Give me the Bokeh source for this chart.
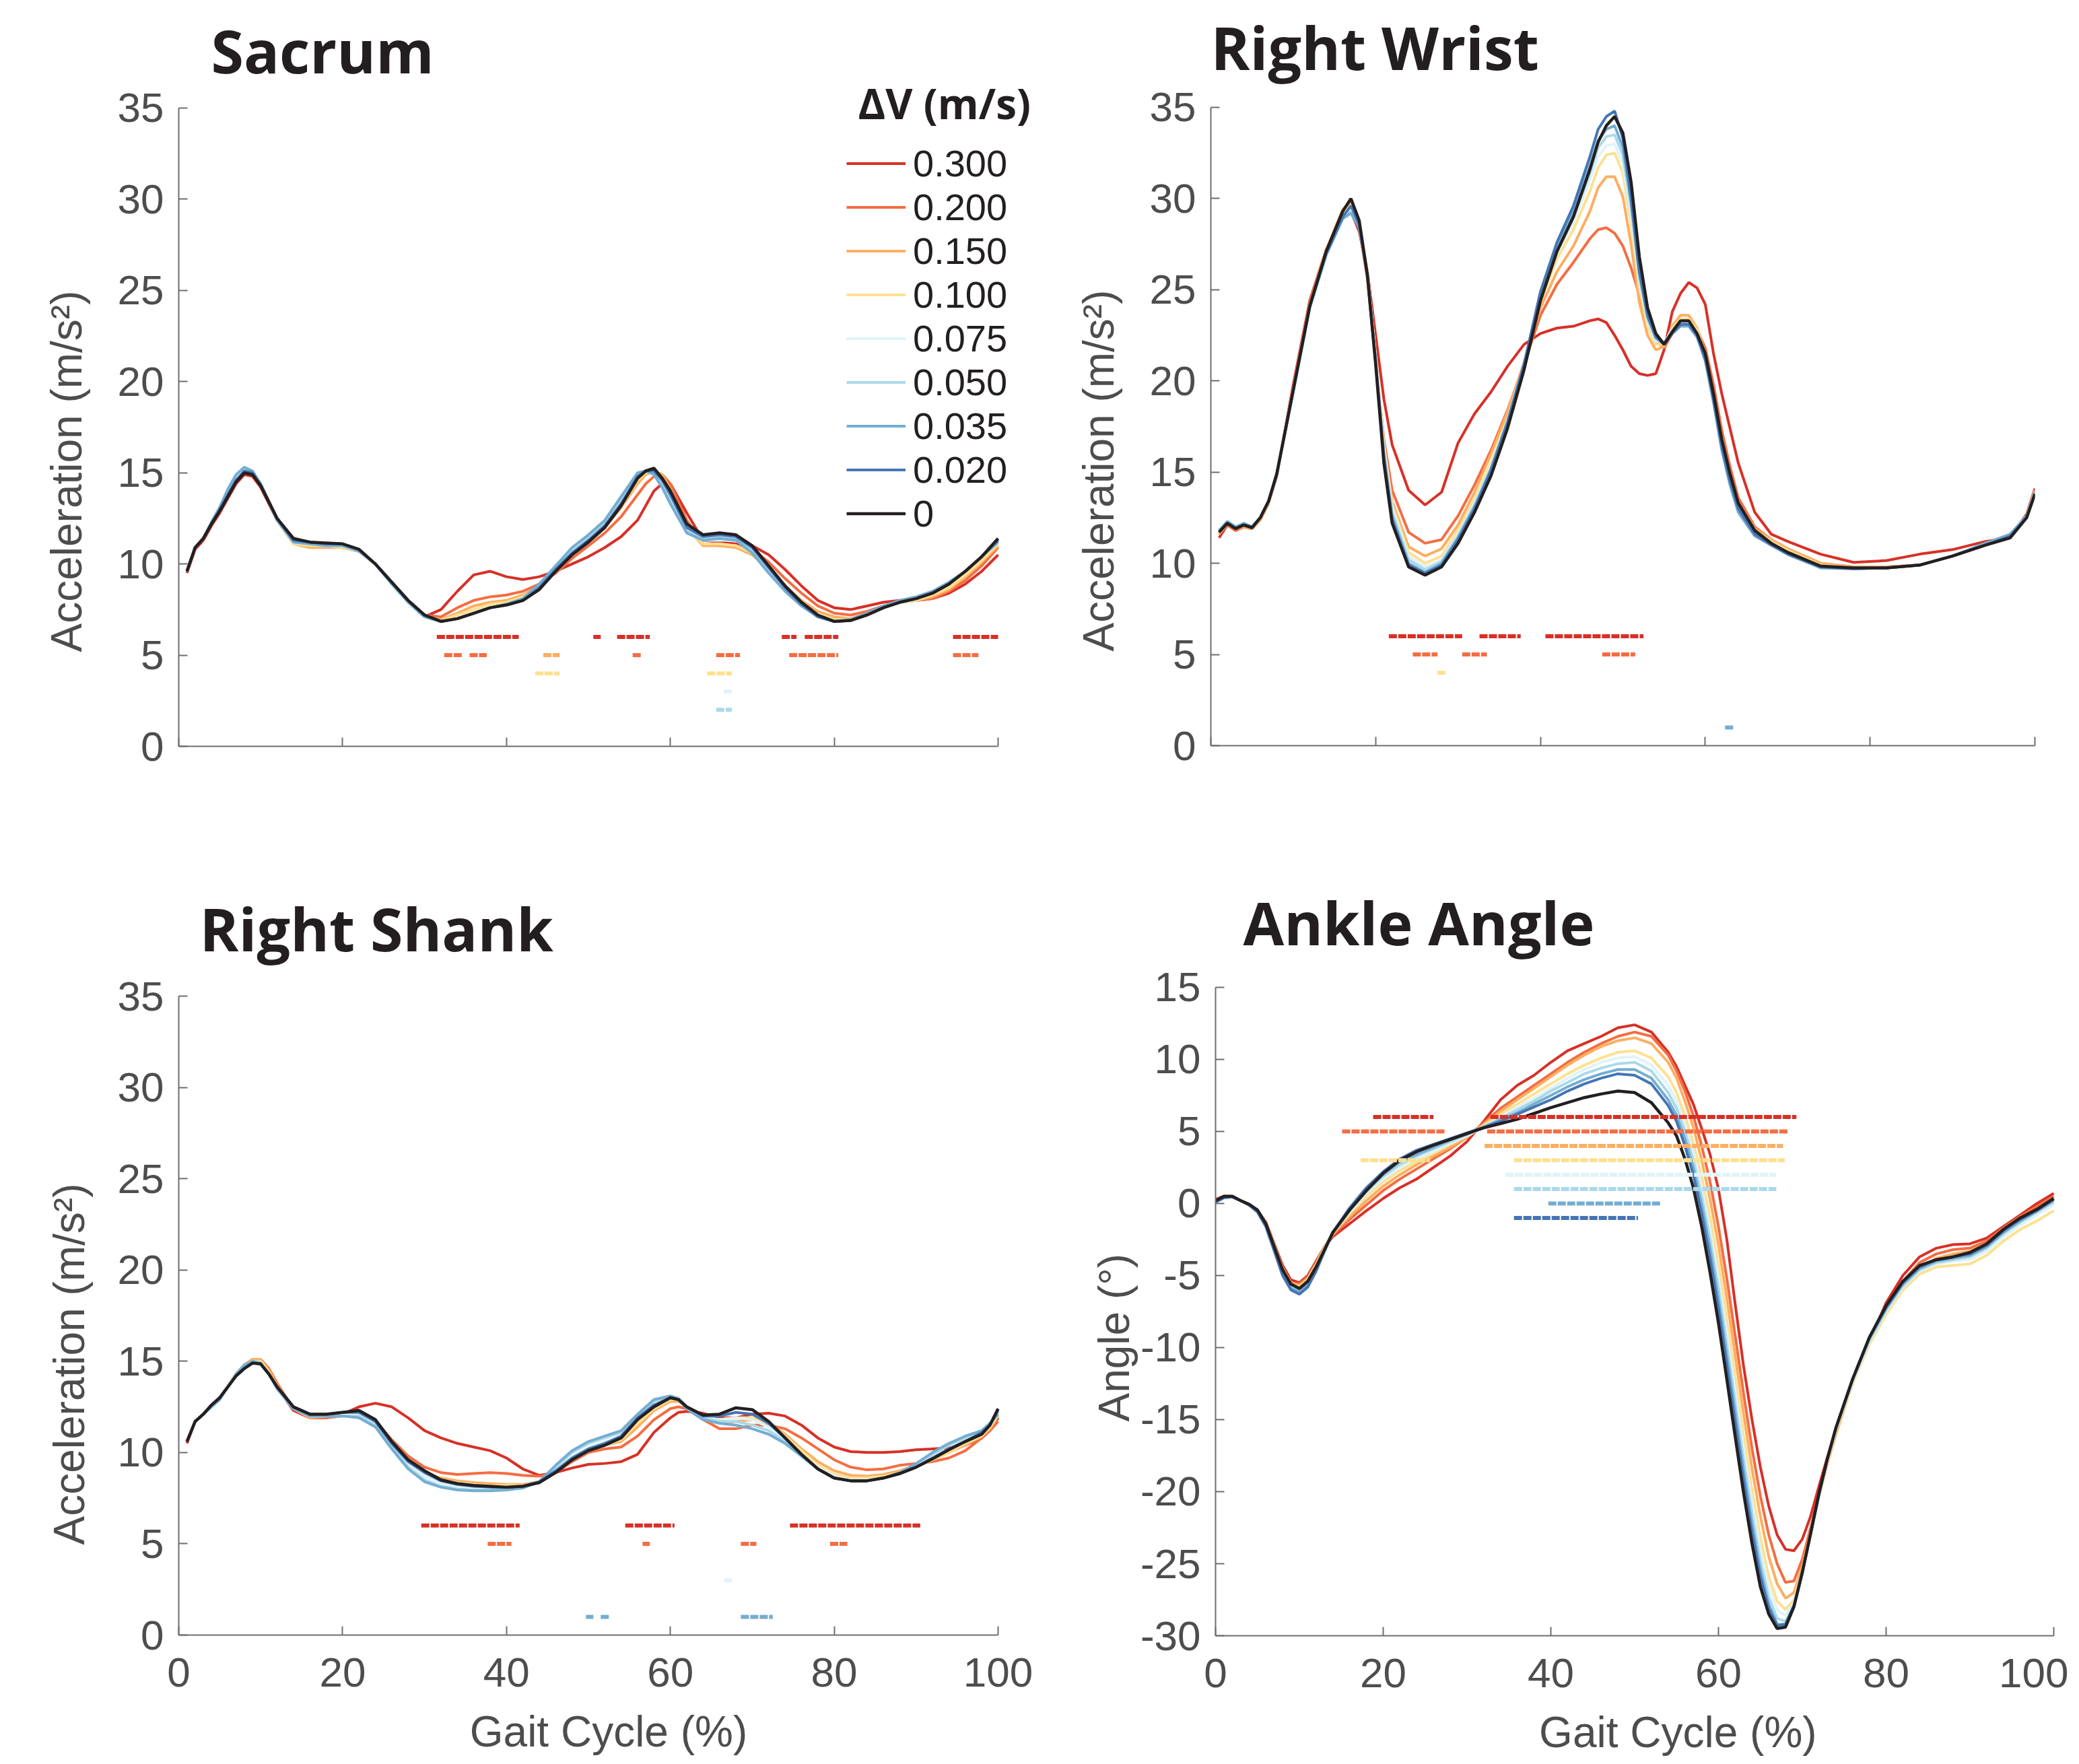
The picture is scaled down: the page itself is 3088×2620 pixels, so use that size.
import math
from bokeh.plotting import figure
from bokeh.layouts import column, row
from bokeh.models import (Range1d, FixedTicker, Label, Legend, LegendItem,
                          ColumnDataSource, Title)
from bokeh.embed import file_html
from bokeh.resources import INLINE

# ---------------- data ----------------
SERIES = ["0.300", "0.200", "0.150", "0.100", "0.075", "0.050", "0.035", "0.020", "0"]
COLORS = ["#d73027", "#f46d43", "#fdae61", "#fee090", "#e0f3f8",
          "#abd9e9", "#74add1", "#4575b4", "#231f20"]
X_TICKS = [0, 20, 40, 60, 80, 100]
ACC_TICKS = [0, 5, 10, 15, 20, 25, 30, 35]
ANK_TICKS = [-30, -25, -20, -15, -10, -5, 0, 5, 10, 15]
ANK_TICK_TEXT = ["-30", "-25", "-20", "-15", "-10", "-5", "0", "5", "10", "15"]

# Sacrum
S_X = [1, 2, 3, 4, 5, 6, 7, 8, 9, 10, 12, 14, 16, 18, 20, 22, 24, 26, 28, 30, 32, 34, 36, 38, 40,
       42, 44, 46, 48, 50, 52, 54, 56, 57, 58, 59, 60, 62, 64, 66, 68, 70, 72, 74, 76, 78, 80, 82,
       84, 86, 88, 90, 92, 94, 96, 98, 100]
S300 = [9.5, 10.8, 11.3, 12.1, 12.8, 13.6, 14.4, 14.9, 14.8, 14.2,
        12.4, 11.2, 11.0, 11.0, 10.9, 10.7, 10.0, 9.0, 8.0, 7.1, 7.5, 8.5, 9.4, 9.6, 9.3, 9.15, 9.3, 9.6, 10.0, 10.4, 10.9, 11.5, 12.4,
        13.2, 14.0, 14.4, 14.4,
        12.8, 11.3, 11.2, 11.1, 11.0, 10.5, 9.7, 8.8, 8.0, 7.6, 7.5, 7.7, 7.9, 8.0, 8.0, 8.1, 8.4, 8.9, 9.6, 10.5]
S200 = [9.6, 10.9, 11.4, 12.2, 12.9, 13.8, 14.6, 15.1, 15.0, 14.4,
        12.5, 11.2, 11.0, 11.0, 10.9, 10.7, 10.0, 9.0, 8.0, 7.2, 7.1, 7.6, 8.0, 8.2, 8.3, 8.5, 8.9, 9.5, 10.3, 11.0, 11.7, 12.6, 13.8,
        14.4, 14.8, 14.9, 14.4,
        12.4, 11.1, 11.0, 11.0, 10.8, 10.1, 9.2, 8.4, 7.7, 7.3, 7.2, 7.4, 7.7, 7.9, 8.0, 8.1, 8.5, 9.1, 9.9, 10.9]
S150 = [9.6, 10.9, 11.4, 12.3, 13.0, 13.9, 14.7, 15.1, 15.0, 14.4,
        12.4, 11.1, 10.9, 10.9, 10.9, 10.7, 10.0, 9.0, 8.0, 7.1, 6.95, 7.3, 7.7, 7.9, 8.0, 8.3, 8.8, 9.6, 10.5, 11.2, 12.0, 13.1, 14.4,
        14.9, 15.1, 14.9, 14.1,
        12.0, 11.0, 11.0, 10.9, 10.5, 9.7, 8.8, 8.0, 7.4, 7.1, 7.0, 7.3, 7.6, 7.9, 8.0, 8.2, 8.6, 9.3, 10.1, 11.0]
S100 = [9.6, 10.9, 11.4, 12.3, 13.0, 13.9, 14.7, 15.1, 15.0, 14.4,
        12.4, 11.1, 11.0, 11.0, 10.9, 10.7, 10.0, 9.0, 8.0, 7.1, 6.9, 7.2, 7.5, 7.8, 7.9, 8.2, 8.8, 9.7, 10.6, 11.3, 12.1, 13.2, 14.6,
        15.0, 15.1, 14.7, 13.9,
        11.9, 11.1, 11.1, 11.0, 10.6, 9.6, 8.6, 7.8, 7.2, 6.95, 6.95, 7.2, 7.6, 7.9, 8.0, 8.3, 8.7, 9.4, 10.2, 11.1]
S075 = [9.6, 10.9, 11.4, 12.3, 13.0, 14.0, 14.8, 15.2, 15.0, 14.4,
        12.4, 11.2, 11.1, 11.0, 11.0, 10.7, 10.0, 8.9, 7.9, 7.1, 6.85, 7.0, 7.3, 7.6, 7.8, 8.1, 8.8, 9.8, 10.7, 11.4, 12.2, 13.4, 14.8,
        15.1, 15.1, 14.5, 13.6,
        11.8, 11.3, 11.3, 11.3, 10.7, 9.6, 8.6, 7.8, 7.1, 6.85, 6.9, 7.2, 7.6, 7.9, 8.1, 8.4, 8.9, 9.6, 10.4, 11.3]
S050 = [9.6, 10.9, 11.4, 12.3, 13.1, 14.1, 14.9, 15.3, 15.1, 14.4,
        12.4, 11.2, 11.1, 11.0, 11.0, 10.7, 10.0, 8.9, 7.9, 7.1, 6.85, 7.0, 7.3, 7.6, 7.8, 8.1, 8.8, 9.8, 10.8, 11.5, 12.3, 13.5, 14.9,
        15.1, 15.0, 14.4, 13.5,
        11.8, 11.4, 11.5, 11.4, 10.8, 9.6, 8.6, 7.8, 7.1, 6.85, 6.9, 7.2, 7.6, 7.9, 8.1, 8.4, 8.9, 9.6, 10.4, 11.3]
S035 = [9.6, 10.9, 11.4, 12.3, 13.1, 14.1, 14.9, 15.3, 15.1, 14.4,
        12.4, 11.2, 11.1, 11.0, 11.0, 10.7, 10.0, 8.9, 7.9, 7.1, 6.85, 7.0, 7.3, 7.6, 7.8, 8.1, 8.9, 9.9, 10.9, 11.6, 12.4, 13.7, 15.0,
        15.1, 14.9, 14.2, 13.3,
        11.7, 11.3, 11.4, 11.3, 10.6, 9.5, 8.5, 7.7, 7.1, 6.85, 6.95, 7.3, 7.7, 8.0, 8.2, 8.5, 9.0, 9.6, 10.4, 11.2]
S020 = [9.6, 10.9, 11.4, 12.2, 13.0, 13.8, 14.6, 15.1, 15.0, 14.3,
        12.5, 11.3, 11.2, 11.1, 11.1, 10.8, 10.0, 9.0, 8.0, 7.2, 6.85, 7.0, 7.3, 7.6, 7.75, 8.0, 8.7, 9.7, 10.6, 11.3, 12.1, 13.3, 14.8,
        15.1, 15.1, 14.6, 13.8,
        12.0, 11.5, 11.6, 11.5, 10.9, 9.8, 8.7, 7.8, 7.1, 6.85, 6.9, 7.2, 7.6, 7.9, 8.1, 8.4, 8.9, 9.6, 10.4, 11.3]
S000 = [9.6, 10.9, 11.4, 12.2, 12.9, 13.7, 14.5, 15.0, 14.9, 14.3,
        12.5, 11.4, 11.2, 11.15, 11.1, 10.8, 10.0, 9.0, 8.0, 7.2, 6.85, 7.0, 7.3, 7.6, 7.75, 8.0, 8.6, 9.6, 10.5, 11.2, 12.0, 13.2, 14.7,
        15.1, 15.25, 14.7, 14.0,
        12.2, 11.6, 11.7, 11.6, 11.0, 9.9, 8.8, 7.9, 7.2, 6.85, 6.9, 7.2, 7.6, 7.9, 8.1, 8.4, 8.9, 9.6, 10.4, 11.4]

# Right wrist
W_X = [1, 2, 3, 4, 5, 6, 7, 8, 10, 12, 14, 16, 17, 18, 19, 20, 21, 22, 24, 26, 28, 30, 32, 34, 36,
       38, 40, 42, 44, 46, 47, 48, 49, 50, 51, 52, 53, 54, 55, 56, 57, 58, 59, 60, 61, 62, 63, 64,
       66, 68, 70, 74, 78, 82, 86, 90, 94, 97, 99, 100]
W300 = [11.4, 12.1, 11.8, 12.0, 11.9, 12.4, 13.3, 14.8,
        19.8, 24.4, 27.2, 28.9,
        29.3, 28.2, 26.0, 22.5, 19.0, 16.5,
        14.0, 13.2, 13.9, 16.6, 18.2, 19.4, 20.8, 22.0, 22.6, 22.9, 23.0, 23.3,
        23.4, 23.2, 22.5, 21.7, 20.8, 20.4, 20.3, 20.4, 21.7, 23.8, 24.8, 25.4, 25.1, 24.2, 21.5, 19.3, 17.4, 15.5,
        12.8, 11.6, 11.2,
        10.5, 10.05, 10.15, 10.5, 10.75, 11.2,
        11.4, 12.7, 14.1]
W200 = [11.6, 12.1, 11.8, 12.0, 11.9, 12.4, 13.3, 14.9,
        19.6, 24.3, 27.2, 28.9,
        29.4, 28.4, 25.6, 21.0, 16.8, 14.0,
        11.7, 11.1, 11.3, 12.6, 14.3, 16.2, 18.4, 20.9, 23.6, 25.3, 26.5, 27.8,
        28.3, 28.4, 28.1, 27.4, 26.2, 24.7, 23.2, 22.2, 21.8, 22.6, 23.3, 23.4, 22.8, 21.8, 19.8, 17.3, 15.3, 13.6,
        12.0, 11.3, 10.8,
        10.0, 9.8, 9.8, 9.9, 10.4, 11.0,
        11.4, 12.6, 14.0]
W150 = [11.6, 12.2, 11.9, 12.0, 11.9, 12.4, 13.3, 14.9,
        19.6, 24.2, 27.2, 29.4,
        29.8, 28.6, 25.8, 21.2, 16.5, 13.4,
        10.9, 10.4, 10.8, 12.1, 13.9, 16.0, 18.3, 21.0, 24.0, 26.0, 27.4, 29.3,
        30.6, 31.2, 31.2, 30.1, 27.5, 24.3, 22.5, 21.7, 21.9, 23.0, 23.6, 23.6, 22.9, 21.5, 19.3, 16.9, 14.9, 13.3,
        11.9, 11.3, 10.8,
        10.0, 9.8, 9.8, 9.9, 10.4, 11.0,
        11.5, 12.6, 14.0]
W100 = [11.7, 12.2, 12.0, 12.1, 12.0, 12.5, 13.4, 14.9,
        19.5, 24.1, 27.1, 29.2,
        29.6, 28.6, 26.0, 21.4, 16.5, 13.2,
        10.6, 10.0, 10.4, 11.8, 13.5, 15.5, 17.9, 20.9, 24.3, 26.7, 28.3, 30.4,
        31.7, 32.4, 32.5, 31.4, 28.6, 25.1, 23.0, 22.0, 22.0, 22.9, 23.4, 23.4, 22.8, 21.4, 19.1, 16.6, 14.6, 13.1,
        11.8, 11.2, 10.7,
        9.9, 9.75, 9.75, 9.9, 10.4, 11.0,
        11.5, 12.6, 13.9]
W075 = [11.7, 12.2, 12.0, 12.1, 12.0, 12.5, 13.4, 14.9,
        19.5, 24.1, 27.0, 29.0,
        29.4, 28.5, 25.9, 21.3, 16.3, 13.0,
        10.4, 9.8, 10.2, 11.6, 13.3, 15.3, 17.8, 20.9, 24.5, 27.0, 28.7, 31.0,
        32.3, 32.9, 33.0, 31.9, 29.1, 25.5, 23.3, 22.2, 22.1, 22.8, 23.2, 23.2, 22.6, 21.3, 19.0, 16.5, 14.5, 13.0,
        11.7, 11.1, 10.6,
        9.8, 9.7, 9.75, 9.9, 10.4, 11.0,
        11.5, 12.5, 13.9]
W050 = [11.7, 12.3, 12.0, 12.1, 12.0, 12.5, 13.4, 14.9,
        19.4, 24.0, 26.9, 28.9,
        29.3, 28.5, 25.9, 21.2, 16.1, 12.8,
        10.2, 9.65, 10.1, 11.5, 13.2, 15.2, 17.7, 20.9, 24.6, 27.2, 29.0, 31.4,
        32.8, 33.4, 33.5, 32.4, 29.5, 25.7, 23.4, 22.3, 22.1, 22.7, 23.1, 23.1, 22.5, 21.2, 18.9, 16.3, 14.4, 12.9,
        11.6, 11.0, 10.5,
        9.75, 9.7, 9.75, 9.9, 10.4, 11.1,
        11.5, 12.6, 13.9]
W035 = [11.8, 12.3, 12.0, 12.2, 12.0, 12.5, 13.4, 14.9,
        19.4, 24.0, 26.9, 28.9,
        29.2, 28.4, 25.8, 21.1, 16.0, 12.6,
        10.0, 9.5, 10.0, 11.4, 13.1, 15.2, 17.8, 20.9, 24.7, 27.4, 29.3, 31.8,
        33.2, 33.8, 34.0, 32.8, 29.8, 25.9, 23.5, 22.4, 22.1, 22.6, 23.0, 23.0, 22.4, 21.1, 18.8, 16.2, 14.3, 12.8,
        11.5, 11.0, 10.5,
        9.75, 9.7, 9.75, 9.9, 10.4, 11.1,
        11.6, 12.6, 13.9]
W020 = [11.7, 12.2, 11.9, 12.1, 12.0, 12.5, 13.4, 14.9,
        19.5, 24.1, 27.0, 29.0,
        29.6, 28.6, 25.8, 21.0, 15.8, 12.4,
        9.9, 9.45, 9.9, 11.3, 13.0, 15.1, 17.7, 20.9, 24.9, 27.6, 29.6, 32.3,
        33.8, 34.5, 34.8, 33.3, 30.0, 26.0, 23.6, 22.4, 22.0, 22.6, 23.1, 23.1, 22.5, 21.2, 19.0, 16.4, 14.5, 13.0,
        11.6, 11.0, 10.5,
        9.8, 9.7, 9.75, 9.9, 10.4, 11.0,
        11.5, 12.5, 13.8]
W000 = [11.7, 12.2, 11.9, 12.1, 11.95, 12.5, 13.4, 14.9,
        19.5, 24.1, 27.1, 29.3,
        30.0, 28.8, 25.8, 20.9, 15.5, 12.2,
        9.8, 9.35, 9.8, 11.1, 12.8, 14.8, 17.4, 20.6, 24.4, 27.1, 29.0, 31.6,
        33.1, 34.0, 34.5, 33.6, 30.9, 26.8, 24.0, 22.6, 22.0, 22.7, 23.3, 23.3, 22.6, 21.5, 19.3, 16.8, 14.9, 13.3,
        11.8, 11.1, 10.6,
        9.85, 9.75, 9.75, 9.9, 10.4, 11.0,
        11.4, 12.5, 13.8]

# Right shank
K_X = [1, 2, 3, 4, 5, 6, 7, 8, 9, 10, 11, 12, 14, 16, 18, 20, 22, 24, 26, 28, 30, 32, 34, 36, 38,
       40, 42, 44, 46, 48, 50, 52, 54, 56, 58, 60, 61, 62, 64, 66, 68, 70, 72, 74, 76, 78, 80, 82,
       84, 86, 88, 90, 92, 94, 96, 98, 99, 100]
K300 = [10.5, 11.7, 12.1, 12.6, 13.0, 13.6, 14.2, 14.6, 14.9, 14.9, 14.4, 13.6,
        12.3, 11.9, 11.9, 12.1, 12.5, 12.7, 12.5, 11.9, 11.2, 10.8, 10.5, 10.3, 10.1, 9.7, 9.1, 8.75, 8.9, 9.15, 9.35, 9.4, 9.5, 9.9, 11.1, 11.9,
        12.2,
        12.25, 12.15, 11.9, 11.9, 12.1, 12.15, 12.0, 11.5, 10.8, 10.3, 10.05, 10.0, 10.0, 10.05, 10.15, 10.2, 10.25, 10.4, 10.8,
        11.2, 11.9]
K200 = [10.6, 11.7, 12.1, 12.6, 13.0, 13.7, 14.3, 14.8, 15.1, 15.1, 14.6, 13.8,
        12.4, 11.9, 11.9, 12.0, 12.1, 11.7, 10.7, 9.8, 9.2, 8.9, 8.8, 8.85, 8.9, 8.85, 8.75, 8.7, 8.9, 9.5, 10.0, 10.2, 10.3, 10.9, 11.8, 12.4,
        12.5,
        12.4, 11.8, 11.3, 11.3, 11.5, 11.5, 11.3, 10.8, 10.2, 9.6, 9.2, 9.05, 9.1, 9.3, 9.4, 9.5, 9.7, 10.1, 10.8,
        11.2, 11.7]
K150 = [10.6, 11.7, 12.1, 12.6, 13.0, 13.7, 14.3, 14.8, 15.1, 15.1, 14.5, 13.7,
        12.4, 11.9, 12.0, 12.1, 12.2, 11.7, 10.6, 9.6, 8.9, 8.6, 8.45, 8.35, 8.3, 8.25, 8.25, 8.4, 8.9, 9.6, 10.1, 10.4, 10.6, 11.4, 12.3, 12.8,
        12.8,
        12.5, 11.9, 11.6, 11.7, 11.8, 11.6, 11.0, 10.2, 9.5, 9.0, 8.75, 8.7, 8.8, 9.0, 9.3, 9.6, 10.0, 10.4, 10.9,
        11.3, 12.0]
K100 = [10.6, 11.7, 12.1, 12.6, 13.0, 13.7, 14.3, 14.8, 15.0, 15.0, 14.4, 13.6,
        12.4, 12.0, 12.0, 12.1, 12.2, 11.7, 10.6, 9.6, 8.9, 8.5, 8.35, 8.25, 8.2, 8.2, 8.2, 8.35, 8.9, 9.6, 10.1, 10.4, 10.7, 11.6, 12.4, 12.9,
        12.9,
        12.5, 11.9, 11.8, 11.9, 11.9, 11.6, 10.9, 10.1, 9.3, 8.8, 8.6, 8.6, 8.7, 8.9, 9.2, 9.6, 10.0, 10.5, 10.9,
        11.4, 12.1]
K075 = [10.6, 11.7, 12.1, 12.6, 13.0, 13.7, 14.3, 14.7, 15.0, 14.9, 14.3, 13.5,
        12.4, 12.0, 12.0, 12.1, 12.1, 11.6, 10.5, 9.4, 8.7, 8.3, 8.15, 8.1, 8.05, 8.05, 8.1, 8.35, 9.0, 9.8, 10.3, 10.6, 10.9, 11.8, 12.6, 13.0,
        12.9,
        12.5, 11.9, 11.8, 11.9, 11.8, 11.4, 10.7, 9.9, 9.2, 8.7, 8.5, 8.5, 8.6, 8.8, 9.2, 9.7, 10.2, 10.7, 11.1,
        11.5, 12.1]
K050 = [10.6, 11.7, 12.1, 12.5, 12.9, 13.6, 14.3, 14.8, 15.0, 14.9, 14.3, 13.5,
        12.4, 12.0, 12.0, 12.0, 12.0, 11.5, 10.3, 9.2, 8.5, 8.15, 8.0, 7.95, 7.95, 8.0, 8.1, 8.4, 9.2, 10.0, 10.5, 10.8, 11.1, 12.0, 12.8, 13.1,
        13.0,
        12.5, 11.9, 11.7, 11.7, 11.5, 11.2, 10.6, 9.8, 9.1, 8.6, 8.45, 8.45, 8.6, 8.85, 9.3, 9.9, 10.4, 10.8, 11.2,
        11.6, 12.1]
K035 = [10.6, 11.7, 12.1, 12.5, 12.9, 13.6, 14.3, 14.8, 15.0, 14.9, 14.3, 13.5,
        12.4, 12.0, 12.0, 12.0, 11.9, 11.4, 10.2, 9.1, 8.4, 8.1, 7.95, 7.9, 7.9, 7.95, 8.05, 8.4, 9.3, 10.1, 10.6, 10.9, 11.2, 12.1, 12.9, 13.1,
        12.9,
        12.4, 11.8, 11.6, 11.5, 11.3, 11.0, 10.5, 9.8, 9.1, 8.6, 8.45, 8.45, 8.6, 8.9, 9.4, 10.0, 10.5, 10.9, 11.2,
        11.6, 12.1]
K020 = [10.6, 11.7, 12.1, 12.6, 13.0, 13.6, 14.2, 14.6, 14.9, 14.85, 14.3, 13.6,
        12.5, 12.1, 12.1, 12.2, 12.2, 11.7, 10.5, 9.5, 8.9, 8.45, 8.25, 8.15, 8.1, 8.1, 8.15, 8.4, 9.0, 9.7, 10.2, 10.5, 10.9, 11.9, 12.6, 13.0,
        12.9,
        12.5, 12.0, 12.0, 12.2, 12.1, 11.6, 10.8, 9.9, 9.1, 8.6, 8.45, 8.45, 8.6, 8.85, 9.2, 9.7, 10.2, 10.6, 11.1,
        11.5, 12.3]
K000 = [10.6, 11.7, 12.1, 12.6, 13.0, 13.6, 14.2, 14.6, 14.9, 14.85, 14.3, 13.6,
        12.5, 12.1, 12.1, 12.2, 12.3, 11.8, 10.6, 9.6, 9.0, 8.5, 8.3, 8.2, 8.15, 8.1, 8.15, 8.35, 8.9, 9.6, 10.1, 10.4, 10.8, 11.8, 12.5, 13.0,
        12.9,
        12.5, 12.05, 12.1, 12.45, 12.35, 11.7, 10.8, 9.9, 9.1, 8.6, 8.45, 8.45, 8.6, 8.85, 9.2, 9.65, 10.15, 10.6, 11.0,
        11.5, 12.4]

# Ankle angle
A_X = [0, 1, 2, 3, 4, 5, 6, 7, 8, 9, 10, 11, 12, 13, 14, 16, 18, 20, 22, 24, 26, 28, 30, 32, 34,
       36, 38, 40, 42, 44, 46, 48, 50, 52, 54, 55, 56, 57, 58, 59, 60, 61, 62, 63, 64, 65, 66, 67,
       68, 69, 70, 71, 72, 73, 74, 76, 78, 80, 82, 84, 86, 88, 90, 92, 94, 96, 98, 100]
A300 = [0.3, 0.5, 0.45, 0.2, -0.1, -0.5, -1.3, -2.8, -4.3, -5.3, -5.5, -5.0, -4.0, -3.0, -2.3,
        -1.4, -0.5, 0.35, 1.1, 1.7, 2.5, 3.3, 4.3, 5.7, 7.2, 8.2, 8.9, 9.8, 10.6, 11.1, 11.6, 12.2, 12.4, 11.9, 10.5,
        9.5, 8.2, 6.9, 5.2, 3.4, 1.0, -2.5, -7.0, -11.3, -15.0, -18.3, -21.0, -23.0, -24.0, -24.1, -23.3, -21.7, -19.6, -17.6, -15.8,
        -12.3, -9.6, -6.9, -5.0, -3.7, -3.1, -2.85, -2.8, -2.4, -1.6, -0.8, 0.0, 0.7]
A200 = [0.3, 0.5, 0.45, 0.2, -0.1, -0.5, -1.3, -2.9, -4.5, -5.5, -5.6, -5.1, -4.1, -3.0, -2.2,
        -1.1, -0.1, 0.9, 1.7, 2.4, 3.1, 3.8, 4.6, 5.6, 6.6, 7.4, 8.2, 9.0, 9.8, 10.5, 11.1, 11.6, 11.9, 11.6, 10.3,
        9.2, 7.8, 6.1, 4.0, 1.5, -1.6, -5.2, -9.2, -13.2, -17.0, -20.3, -23.0, -25.0, -26.3, -26.2, -24.7, -22.5, -20.2, -18.0, -16.0,
        -12.4, -9.5, -7.2, -5.4, -4.1, -3.5, -3.2, -3.1, -2.6, -1.7, -0.9, -0.2, 0.5]
A150 = [0.2, 0.5, 0.5, 0.2, -0.1, -0.5, -1.4, -2.9, -4.5, -5.5, -5.7, -5.2, -4.2, -3.0, -2.1,
        -0.9, 0.2, 1.2, 2.0, 2.7, 3.3, 3.9, 4.6, 5.5, 6.4, 7.2, 8.0, 8.8, 9.6, 10.3, 10.9, 11.3, 11.5, 11.1, 9.8,
        8.7, 7.1, 5.3, 3.0, 0.3, -2.9, -6.6, -10.6, -14.6, -18.4, -21.7, -24.5, -26.4, -27.4, -27.0, -25.2, -22.8, -20.3, -18.0, -16.0,
        -12.5, -9.6, -7.4, -5.7, -4.5, -3.8, -3.5, -3.3, -2.8, -1.9, -1.1, -0.4, 0.3]
A100 = [0.1, 0.4, 0.45, 0.2, -0.1, -0.5, -1.4, -3.0, -4.6, -5.6, -5.8, -5.3, -4.3, -3.1, -2.0,
        -0.7, 0.5, 1.5, 2.3, 2.9, 3.5, 4.1, 4.7, 5.4, 6.2, 6.9, 7.6, 8.3, 9.0, 9.6, 10.1, 10.5, 10.6, 10.1, 8.8,
        7.7, 6.1, 4.2, 1.8, -1.0, -4.3, -8.1, -12.1, -16.1, -19.9, -23.2, -25.9, -27.6, -28.2, -27.5, -25.5, -22.9, -20.3, -17.9, -15.8,
        -12.5, -9.8, -7.7, -6.0, -4.9, -4.4, -4.3, -4.2, -3.6, -2.6, -1.8, -1.2, -0.5]
A075 = [0.1, 0.4, 0.45, 0.2, -0.1, -0.5, -1.4, -3.0, -4.7, -5.7, -5.9, -5.4, -4.4, -3.1, -2.0,
        -0.6, 0.7, 1.7, 2.5, 3.1, 3.6, 4.2, 4.7, 5.3, 6.0, 6.7, 7.3, 8.0, 8.7, 9.3, 9.8, 10.1, 10.2, 9.6, 8.2,
        7.1, 5.5, 3.6, 1.1, -1.8, -5.2, -9.0, -13.0, -17.0, -20.7, -24.0, -26.6, -28.2, -28.6, -27.7, -25.6, -22.9, -20.2, -17.8, -15.7,
        -12.4, -9.6, -7.5, -5.8, -4.7, -4.2, -4.0, -3.9, -3.3, -2.3, -1.5, -0.8, -0.1]
A050 = [0.1, 0.4, 0.45, 0.2, -0.1, -0.5, -1.5, -3.1, -4.8, -5.8, -6.0, -5.5, -4.5, -3.2, -2.0,
        -0.5, 0.8, 1.9, 2.7, 3.3, 3.8, 4.3, 4.8, 5.3, 5.9, 6.5, 7.1, 7.8, 8.4, 9.0, 9.4, 9.7, 9.8, 9.2, 7.7,
        6.6, 5.0, 3.0, 0.5, -2.5, -5.9, -9.8, -13.8, -17.8, -21.5, -24.8, -27.3, -28.8, -29.0, -27.9, -25.7, -22.9, -20.2, -17.8, -15.7,
        -12.3, -9.5, -7.4, -5.7, -4.6, -4.1, -3.9, -3.7, -3.1, -2.1, -1.3, -0.6, 0.1]
A035 = [0.1, 0.4, 0.45, 0.2, -0.1, -0.5, -1.5, -3.2, -4.9, -5.9, -6.1, -5.6, -4.6, -3.3, -2.0,
        -0.4, 1.0, 2.0, 2.9, 3.4, 3.9, 4.4, 4.8, 5.3, 5.8, 6.3, 6.9, 7.5, 8.1, 8.6, 9.0, 9.3, 9.3, 8.7, 7.2,
        6.1, 4.5, 2.5, -0.1, -3.1, -6.6, -10.5, -14.5, -18.5, -22.2, -25.4, -27.8, -29.2, -29.2, -28.0, -25.7, -22.9, -20.2, -17.7, -15.6,
        -12.2, -9.4, -7.3, -5.6, -4.5, -4.0, -3.8, -3.6, -3.0, -2.0, -1.2, -0.5, 0.2]
A020 = [0.1, 0.4, 0.45, 0.2, -0.1, -0.6, -1.6, -3.3, -5.0, -6.0, -6.3, -5.8, -4.7, -3.3, -2.0,
        -0.3, 1.1, 2.2, 3.1, 3.7, 4.1, 4.5, 4.9, 5.3, 5.7, 6.2, 6.7, 7.2, 7.8, 8.3, 8.7, 9.0, 8.9, 8.3, 6.8,
        5.7, 4.0, 2.0, -0.7, -3.8, -7.3, -11.2, -15.2, -19.2, -22.8, -25.9, -28.1, -29.3, -29.2, -27.9, -25.6, -22.9, -20.1, -17.7, -15.6,
        -12.2, -9.3, -7.2, -5.5, -4.4, -3.9, -3.7, -3.5, -2.9, -1.9, -1.1, -0.5, 0.3]
A000 = [0.2, 0.5, 0.5, 0.2, -0.05, -0.45, -1.4, -3.0, -4.6, -5.6, -5.9, -5.4, -4.4, -3.2, -2.0,
        -0.45, 0.9, 2.1, 3.0, 3.6, 4.05, 4.45, 4.85, 5.25, 5.55, 5.85, 6.25, 6.65, 7.0, 7.35, 7.6, 7.8, 7.7, 7.0, 5.6,
        4.7, 3.1, 1.1, -1.6, -4.8, -8.3, -12.2, -16.2, -20.1, -23.6, -26.6, -28.5, -29.5, -29.4, -28.0, -25.6, -22.9, -20.1, -17.7, -15.6,
        -12.2, -9.3, -7.1, -5.4, -4.3, -3.9, -3.7, -3.4, -2.8, -1.8, -1.0, -0.4, 0.35]

# significance bars: series index (into SERIES), start %, end %
ACC_ROWS = [6, 5, 5, 4, 3, 2, 1, 0]
ANK_ROWS = [6, 5, 4, 3, 2, 1, 0, -1]
S_SIG_SER = [0, 0, 0, 0, 0, 0, 1, 1, 1, 1, 1, 1, 2, 3, 3, 4, 5]
S_SIG_START = [31.5, 50.6, 53.5, 73.6, 76.4, 94.5, 32.4, 35.5, 55.4, 65.6, 74.5, 94.5, 44.5, 43.5, 64.5, 66.5, 65.6]
S_SIG_END = [41.5, 51.5, 57.5, 75.4, 80.5, 100, 34.6, 37.6, 56.5, 68.5, 80.5, 97.6, 46.5, 46.5, 67.5, 67.5, 67.5]
W_SIG_SER = [0, 0, 0, 1, 1, 1, 3, 6]
W_SIG_START = [21.6, 32.6, 40.6, 24.5, 30.5, 47.5, 27.5, 62.4]
W_SIG_END = [30.5, 37.6, 52.5, 27.5, 33.5, 51.5, 28.5, 63.5]
K_SIG_SER = [0, 0, 0, 1, 1, 1, 1, 4, 6, 6, 6]
K_SIG_START = [29.6, 54.5, 74.6, 37.7, 56.6, 68.6, 79.5, 66.6, 49.7, 51.5, 68.6]
K_SIG_END = [41.6, 60.5, 90.5, 40.6, 57.5, 70.5, 81.6, 67.5, 50.6, 52.5, 72.5]
A_SIG_SER = [0, 0, 1, 1, 2, 3, 3, 4, 5, 6, 7]
A_SIG_START = [18.8, 32.8, 15.1, 32.4, 32.1, 17.3, 35.6, 34.6, 35.6, 39.7, 35.6]
A_SIG_END = [26.0, 69.3, 27.4, 68.3, 67.7, 25.6, 67.9, 66.9, 66.9, 53.2, 50.4]

# ---------------- styling helpers ----------------
AXIS_COLOR = "#6d6e71"
TEXT_GRAY = "#4d4d4f"
INK = "#231f20"


def make_fig(fw, fh, bl, br, bt, bb, xr, yr, ybounds, yticks, xlabel):
    p = figure(frame_width=fw, frame_height=fh, min_border_left=bl, min_border_right=br,
               min_border_top=bt, min_border_bottom=bb,
               x_range=Range1d(*xr), y_range=Range1d(*yr),
               output_backend="svg", toolbar_location=None)
    p.outline_line_color = None
    p.xgrid.visible = False
    p.ygrid.visible = False
    p.background_fill_color = "white"
    p.border_fill_color = "white"
    for ax in (p.xaxis[0], p.yaxis[0]):
        ax.axis_line_color = AXIS_COLOR
        ax.axis_line_width = 2
        ax.major_tick_line_color = AXIS_COLOR
        ax.major_tick_line_width = 2
        ax.major_tick_in = 13
        ax.major_tick_out = 0
        ax.minor_tick_line_color = None
        ax.major_label_text_font = "Liberation Sans"
        ax.major_label_text_font_size = "62px"
        ax.major_label_text_color = TEXT_GRAY
    p.xaxis.ticker = FixedTicker(ticks=X_TICKS)
    p.yaxis.ticker = FixedTicker(ticks=yticks)
    p.xaxis.bounds = (0, 100)
    p.yaxis.bounds = ybounds
    p.yaxis.major_label_standoff = 22
    p.xaxis.major_label_standoff = 34
    if xlabel is None:
        p.xaxis.major_label_overrides = {t: "" for t in X_TICKS}
    else:
        ax = p.xaxis[0]
        ax.axis_label = xlabel
        ax.axis_label_standoff = 28
        ax.axis_label_text_font = "Liberation Sans"
        ax.axis_label_text_font_size = "64px"
        ax.axis_label_text_font_style = "normal"
        ax.axis_label_text_color = TEXT_GRAY
    return p


def add_lines(p, xs, series_vals):
    rends = []
    for i, ys in enumerate(series_vals):
        if len(ys) != len(xs):
            raise ValueError("length mismatch series %d: %d vs %d" % (i, len(ys), len(xs)))
        r = p.line(xs, ys, line_color=COLORS[i], line_width=4.5 if i == 8 else 4)
        rends.append(r)
    return rends


def add_sig(p, ser, starts, ends, rows):
    src = ColumnDataSource(dict(x0=starts, x1=ends,
                                y=[rows[i] for i in ser],
                                c=[COLORS[i] for i in ser]))
    p.segment(x0="x0", y0="y", x1="x1", y1="y", line_color="c", line_width=6,
              line_dash="12 2", source=src)


def add_text(p, text, x, y, size, font="Open Sans", style="bold", color=INK):
    p.add_layout(Label(x=x, y=y, x_units="screen", y_units="screen", text=text,
                       text_font=font, text_font_size=size, text_font_style=style,
                       text_color=color, text_align="left", text_baseline="alphabetic"))


def add_ylabel(p, text, offset, standoff):
    p.add_layout(Title(text=text, align="left", vertical_align="bottom", offset=offset,
                       standoff=standoff, text_font="Liberation Sans", text_font_size="64px",
                       text_font_style="normal", text_color=TEXT_GRAY), "left")


NBSP = "\u00a0"

# ---------------- panels ----------------
# Sacrum (frame extended up for the title and right for the legend)
p1 = make_fig(1277, 1108, 265, 0, 0, 192, (0, 104.93), (0, 40.907), (0, 35), ACC_TICKS, None)
r1 = add_lines(p1, S_X, [S300, S200, S150, S100, S075, S050, S035, S020, S000])
add_sig(p1, S_SIG_SER, S_SIG_START, S_SIG_END, ACC_ROWS)
add_text(p1, "Sacrum", 48, 1034, "88px")
add_text(p1, "ΔV (m/s)", 1009, 956, "62px")
add_ylabel(p1, "Acceleration (m/s²)", 140, 74)
leg = Legend(items=[LegendItem(label=s, renderers=[r]) for s, r in zip(SERIES, r1)],
             location=(992, 313), orientation="vertical",
             glyph_width=88, glyph_height=65, label_height=65, spacing=0,
             padding=0, margin=0, label_standoff=11,
             label_text_font="Liberation Sans", label_text_font_size="56px",
             label_text_color=INK, border_line_color=None, background_fill_alpha=0)
p1.add_layout(leg)

# Right wrist
p2 = make_fig(1224, 1107, 256, 50, 0, 193, (0, 100), (0, 40.87), (0, 35), ACC_TICKS, None)
add_lines(p2, W_X, [W300, W200, W150, W100, W075, W050, W035, W020, W000])
add_sig(p2, W_SIG_SER, W_SIG_START, W_SIG_END, ACC_ROWS)
add_text(p2, "Right Wrist", 0, 1038, "88px")
add_ylabel(p2, "Acceleration (m/s²)", 140, 74)

# Right shank (frame extended right so the axis title sits where the original has it)
p3 = make_fig(1277, 1128, 265, 0, 0, 176, (0, 104.93), (0, 41.602), (0, 35), ACC_TICKS,
              "Gait Cycle (%)")
add_lines(p3, K_X, [K300, K200, K150, K100, K075, K050, K035, K020, K000])
add_sig(p3, K_SIG_SER, K_SIG_START, K_SIG_END, ACC_ROWS)
add_text(p3, "Right Shank", 31, 1050, "88px")
add_ylabel(p3, "Acceleration (m/s²)", 134, 66)

# Ankle angle
p4 = make_fig(1267, 1129, 263, 0, 0, 175, (0, 101.77), (-30, 22.757), (-30, 15), ANK_TICKS,
              NBSP * 6 + "Gait Cycle (%)")
p4.yaxis.major_label_overrides = dict(zip(ANK_TICKS, ANK_TICK_TEXT))
add_lines(p4, A_X, [A300, A200, A150, A100, A075, A050, A035, A020, A000])
add_sig(p4, A_SIG_SER, A_SIG_START, A_SIG_END, ANK_ROWS)
add_text(p4, "Ankle Angle", 41, 1060, "88px")
add_ylabel(p4, "Angle (°)", 318, 0)

layout = column(row(p1, p2), row(p3, p4))
open("out.html", "w").write(file_html(layout, INLINE))
